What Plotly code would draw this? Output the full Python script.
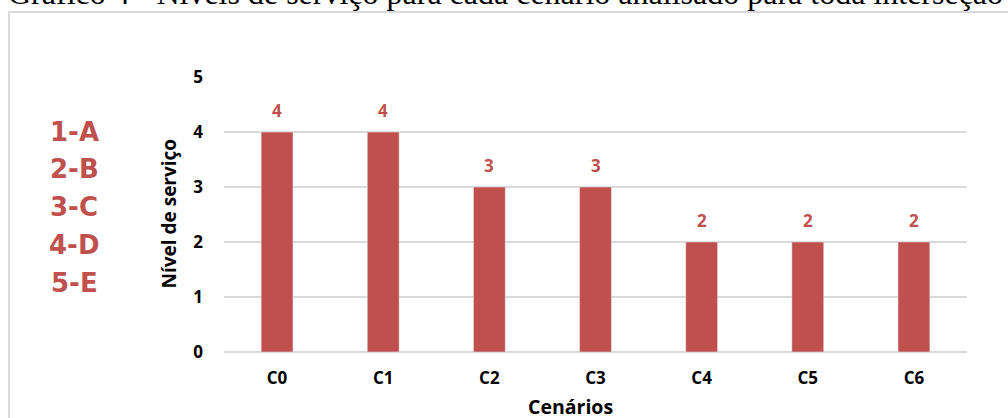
import plotly.graph_objects as go

categories = ["C0", "C1", "C2", "C3", "C4", "C5", "C6"]
values = [4, 4, 3, 3, 2, 2, 2]
y_ticks = [0, 1, 2, 3, 4, 5]
legend_lines = ["1-A", "2-B", "3-C", "4-D", "5-E"]
title_text = "Gráfico 4 - Níveis de serviço para cada cenário analisado para toda interseção"
y_title = "Nível de serviço"
x_title = "Cenários"

BAR = "#C0504D"
GRID = "#D9D9D9"
W, H = 1008, 418
L, R, T, B = 224, 41, 77, 66
PW, PH = W - L - R, H - T - B
SANS = "Open Sans"

def px_x(p):
    return (p - L) / PW

def px_y(p):
    return (H - B - p) / PH

fig = go.Figure(go.Bar(
    x=categories, y=values, marker_color=BAR, width=0.3, hoverinfo="skip",
))

ann = []
for c, v in zip(categories, values):
    ann.append(dict(x=c, y=v, xref="x", yref="y", text=str(v), showarrow=False,
                    yshift=22, font=dict(family=SANS, size=17, color=BAR, weight="bold")))

legend_y = [132, 169, 207, 245, 283]
for t, py in zip(legend_lines, legend_y):
    ann.append(dict(x=px_x(74), y=px_y(py), xref="paper", yref="paper", text=t, showarrow=False,
                    xanchor="center", yanchor="middle",
                    font=dict(family="DejaVu Sans", size=26, color=BAR, weight="bold")))

ann.append(dict(x=px_x(168.5), y=px_y(214), xref="paper", yref="paper", text=y_title, showarrow=False,
                textangle=-90, xanchor="center", yanchor="middle",
                font=dict(family=SANS, size=19, color="black", weight="bold")))
ann.append(dict(x=px_x(570), y=px_y(406), xref="paper", yref="paper", text=x_title, showarrow=False,
                xanchor="center", yanchor="middle",
                font=dict(family=SANS, size=19.5, color="black", weight="bold")))
ann.append(dict(x=px_x(6), y=px_y(-7), xref="paper", yref="paper", text=title_text, showarrow=False,
                xanchor="left", yanchor="middle",
                font=dict(family="Liberation Serif", size=32, color="black")))

fig.add_shape(type="rect", xref="paper", yref="paper",
              x0=px_x(9), x1=px_x(1100), y0=px_y(500), y1=px_y(12),
              line=dict(color=GRID, width=2), fillcolor="rgba(0,0,0,0)", layer="below")

fig.update_layout(
    width=W, height=H,
    margin=dict(l=L, r=R, t=T, b=B),
    paper_bgcolor="white", plot_bgcolor="white",
    showlegend=False,
    bargap=0.7,
    annotations=ann,
    xaxis=dict(showgrid=False, showline=False, ticks="", ticklabelstandoff=14,
               tickfont=dict(family=SANS, size=17, color="black", weight="bold"),
               fixedrange=True),
    yaxis=dict(range=[0, 5], tickvals=y_ticks, showgrid=True, gridcolor=GRID, gridwidth=2,
               zeroline=True, zerolinecolor=GRID, zerolinewidth=2, showline=False,
               ticks="", ticklabelstandoff=20,
               tickfont=dict(family=SANS, size=17, color="black", weight="bold"),
               fixedrange=True),
)

fig.write_html("out.html", config={"displayModeBar": False},
               post_script="document.body.style.margin='0';document.body.style.overflow='hidden';")
